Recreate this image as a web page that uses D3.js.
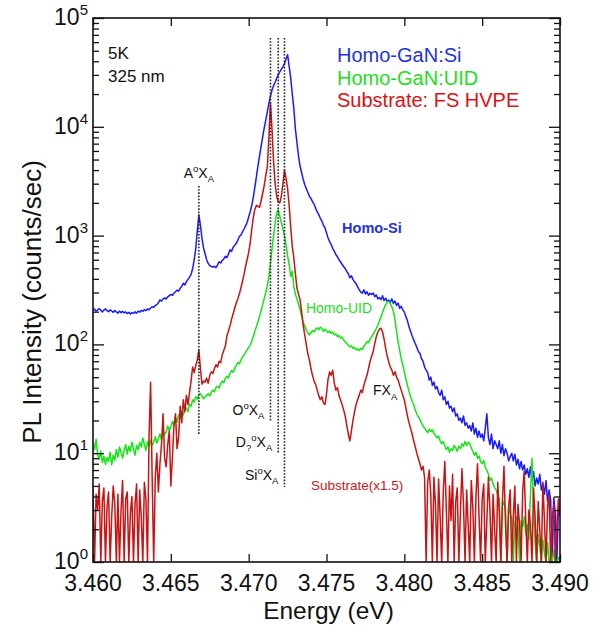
<!DOCTYPE html>
<html>
<head>
<meta charset="utf-8">
<script src="https://cdn.jsdelivr.net/npm/d3@7/dist/d3.min.js"></script>
<style>
  html, body { margin: 0; padding: 0; background: #fff; }
  svg { display: block; font-family: "Liberation Sans", Arial, Helvetica, sans-serif; }
</style>
</head>
<body>
<svg id="chart" width="602" height="629"></svg>
<script>
// Photon energy grid of the spectra (eV), 0.1 meV steps from 3.460 to 3.490
const energy = d3.range(301).map(i => +(3.46 + i * 0.0001).toFixed(4));

// Homo-GaN:Si PL intensity (counts/sec)
const homoSi = [
  205,211,203,208,214,206,199,207,212,204,
  200,208,203,197,205,199,194,202,196,201,
  195,199,192,197,190,196,193,199,194,202,
  198,205,201,209,204,212,208,216,222,219,
  228,232,241,257,250,262,268,261,274,280,
  288,283,296,305,316,309,328,341,365,352,
  378,396,415,440,495,600,760,1100,1550,1250,
  950,770,680,600,555,530,520,515,522,508,
  538,575,560,592,610,645,628,675,740,716,
  780,810,850,905,980,1010,1080,1150,1230,1320,
  1480,1660,1900,2260,2800,3500,4400,5400,6600,8100,
  9800,11600,13800,16400,19200,21800,23800,25700,28000,30000,
  32000,33800,35600,38000,42000,46000,36000,28000,20000,14900,
  9600,7200,5400,4360,3800,3300,2950,2700,2500,2300,
  2200,2050,1950,1780,1660,1560,1450,1360,1250,1180,
  1060,950,880,830,760,720,670,640,600,575,
  545,520,498,470,446,410,428,396,375,362,
  338,318,302,296,318,290,305,283,295,288,
  297,275,284,262,270,258,280,252,266,248,
  255,245,262,238,250,228,240,215,224,208,
  198,180,165,145,132,120,110,102,94,86,
  83,74,70,62,58,55,47,50,42,45,
  39,41,36,34,38,31,33,28,30,26,
  27,24,26,22,23,20,21,19,22,18,
  19,17,18,16,19,15,17,14,16,14,
  15,13,17,23,14,12,15,11,13,12,
  11,13,10,12,9.5,11,10,8.5,9.3,10,
  8.5,9.8,7.8,8.8,7.2,8.4,7,7.8,6.4,7.2,
  6,7.5,5.6,6.8,5,5.9,5.2,6.4,4.6,5.2,
  4.2,5.6,3.6,4.6,3.7,0.5,3.9,2.8,0.5,3.2,
  2.7
];

// Homo-GaN:UID PL intensity (counts/sec)
const homoUID = [
  12.5,10.8,13.4,9.6,8.8,10.5,8.2,9.4,7.9,9.1,
  8.4,10.2,7.8,9.6,8.6,10.8,9.2,11.4,10.2,9.0,
  10.6,12.0,9.8,11.6,10.4,12.6,11.0,9.6,11.8,10.8,
  12.6,11.4,13.8,12.0,10.6,12.8,11.6,13.2,11.8,12.6,
  14.2,12.4,13.6,15.0,13.2,16.4,14.8,15.6,17.8,16.2,
  17.4,19.6,18.0,21.4,19.2,22.6,21.0,24.2,22.4,25.6,
  26,24,28.4,27,31,29.6,33,31.4,34.6,35.4,
  33.2,31.6,32.8,34,35.2,33.8,36.4,38,36.8,40.2,
  41.4,39.6,43.8,46,44.4,48.6,51,49.2,54,57.4,
  55.6,60.2,64,68,66,72,76.4,80,84.6,89,
  94,98,108,118,132,146,162,180,205,232,
  265,300,350,420,560,760,1000,1300,1620,1720,
  1500,1320,1150,1000,820,650,540,420,470,340,
  290,262,235,210,182,160,148,136,128,122,
  128,134,130,138,142,136,144,140,132,138,
  134,128,133,126,130,122,125,118,121,114,
  117,110,106,102,98,95,97,92,94,89,
  91,88,92,90,96,100,106,104,112,118,
  124,132,140,150,165,180,196,215,232,245,
  248,238,222,200,168,132,105,88,74,65,
  56,48,42,37,33,30,28,25,23,21.5,
  20.5,19,17.8,17,16.2,15.4,16.6,15.8,16.4,15.2,
  14.6,13.8,14.4,13,12.2,12.8,11.6,10.8,11.4,10.2,
  11,10.6,11.8,11.2,10.4,11.6,11,12.2,11.6,12.8,
  11.8,12.6,12.2,11.2,10.4,9.6,10.2,9,9.4,8.4,
  8,8.6,7.4,7,6.4,5.6,5.9,5.2,4.8,4.6,
  4.1,3.8,0.5,3.3,3.6,3,0.5,3.2,2.8,2.5,
  0.5,2.3,2.6,2.2,0.5,2.4,2.1,2.6,1.8,2.2,
  1.6,4,9,3.4,1.5,0.5,1.8,1.4,0.5,1.6,
  1.2,0.5,1.5,0.5,1.1,0.5,1.3,0.5,0.5,1.1,
  0.5
];

// Substrate: FS HVPE PL intensity (counts/sec, scaled x1.5)
const substrate = [
  4.6,0.5,4.2,3.0,5.2,0.5,3.6,4.8,0.5,3.2,
  4.4,0.5,2.6,5.0,3.4,0.5,4.2,0.5,3.0,5.6,
  0.5,3.8,4.4,0.5,2.8,4.0,0.5,3.4,5.2,0.5,
  4.6,2.6,0.5,5.4,3.8,0.5,14,45,6,0.5,
  6,10,4.4,8,12,23,9,7.5,12,16,
  5,9,18,23,11,14,27,19,31,24,
  34,28,36,46,62,55,64,72,89,60,
  43,46,45,49,44,52,56,54,60,65,
  62,70,68,80,88,96,120,132,148,170,
  190,215,240,262,290,330,380,440,520,600,
  700,860,1150,1480,1750,1900,1860,1820,2100,2450,
  2900,3600,4300,8000,16600,9500,4800,3000,2300,2050,
  2000,2300,3000,4000,3400,2700,1900,1200,800,620,
  450,330,290,257,200,150,123,100,82,72,
  60,52,46,43,38,34,31,33,29,28,
  35,48,56,52,58,44,38,40,34,31,
  28,25,22,18,15,13,16,20,24,28,
  31,34,38,36,42,47,52,60,70,78,
  86,102,118,130,138,141,130,112,92,78,
  69,62,58,52,56,50,47,42,38,34,
  31,26,22,19,17,15,13,11.5,10,9,
  8,7,7.6,6,0.5,5.4,7,4.2,0.5,6,
  3.4,0.5,5.8,2.6,0.5,4.4,8.4,3,0.5,5,
  2.4,6.4,0.5,3.6,4.8,0.5,2.8,7.2,3.4,0.5,
  4.6,2.2,0.5,5.6,3.2,0.5,4,8,2.6,0.5,
  3.8,5.2,0.5,2.4,6,3,0.5,4.2,2,0.5,
  5.4,2.8,0.5,3.6,7.6,2.2,0.5,3.2,4.6,0.5,
  2.6,5,0.5,3.4,2.2,0.5,4.4,6.8,2.4,0.5,
  3,2.2,0.5,4.8,2.6,0.5,3.6,2,0.5,5.4,
  2.4,0.5,3.2,4.2,0.5,2.6,3.4,0.5,2.2,3.8,
  2.6
];

// Axis ticks
const xTicks = [3.460, 3.465, 3.470, 3.475, 3.480, 3.485, 3.490];
const xTickLabels = ["3.460", "3.465", "3.470", "3.475", "3.480", "3.485", "3.490"];
const yExponents = [0, 1, 2, 3, 4, 5];

// Bound-exciton line markers: energy (eV), top and bottom of the dotted line (counts/sec)
const markerNames = ["AoXA", "OoXA", "D?oXA", "SioXA"];
const markerEnergy = [3.4668, 3.4714, 3.4719, 3.4723];
const markerTop = [2860, 65500, 65500, 65500];
const markerBottom = [14.7, 19.4, 10, 4.9];

// Series legend
const seriesNames = ["Homo-GaN:Si", "Homo-GaN:UID", "Substrate: FS HVPE"];
const seriesColors = ["#1a1aff", "#14e614", "#c81414"];
const seriesValues = [homoSi, homoUID, substrate];

const svg = d3.select("#chart");
const W = 602, H = 629;
const margin = { left: 93, top: 18, right: 42, bottom: 67 };
const pw = W - margin.left - margin.right;
const ph = H - margin.top - margin.bottom;

const x = d3.scaleLinear().domain([3.46, 3.49]).range([0, pw]);
const y = d3.scaleLog().domain([1, 1e5]).range([ph, 0]).clamp(true);

const g = svg.append("g").attr("transform", `translate(${margin.left},${margin.top})`);

g.append("clipPath").attr("id", "plotclip")
  .append("rect").attr("x", 0).attr("y", 0).attr("width", pw).attr("height", ph);

// Spectra
const line = d3.line()
  .x((d, i) => x(energy[i]))
  .y(d => y(Math.max(d, 0.5)));

const plot = g.append("g").attr("clip-path", "url(#plotclip)");
seriesValues.forEach((vals, k) => {
  plot.append("path")
    .datum(vals)
    .attr("fill", "none")
    .attr("stroke", seriesColors[k])
    .attr("stroke-width", 1.5)
    .attr("stroke-linejoin", "round")
    .attr("d", line);
});

// Dotted marker lines
markerEnergy.forEach((e, k) => {
  g.append("line")
    .attr("x1", x(e)).attr("x2", x(e))
    .attr("y1", y(markerTop[k])).attr("y2", y(markerBottom[k]))
    .attr("stroke", "#222")
    .attr("stroke-width", 1.6)
    .attr("stroke-dasharray", "1.6,1.6");
});

// Axes (ticks pointing inward on all four sides)
const minorY = [];
for (let p = 0; p < 5; p++) for (let m = 2; m <= 9; m++) minorY.push(m * Math.pow(10, p));
const majorY = yExponents.map(p => Math.pow(10, p));

function styleAxis(sel) {
  sel.select(".domain").remove();
  sel.selectAll(".tick line").attr("stroke", "#111").attr("stroke-width", 1.3);
  sel.selectAll(".tick text").remove();
}

g.append("g").attr("transform", `translate(0,${ph})`)
  .call(d3.axisBottom(x).tickValues(xTicks).tickSize(-8)).call(styleAxis);
g.append("g")
  .call(d3.axisTop(x).tickValues(xTicks).tickSize(-8)).call(styleAxis);
g.append("g")
  .call(d3.axisLeft(y).tickValues(majorY).tickSize(-11)).call(styleAxis);
g.append("g")
  .call(d3.axisLeft(y).tickValues(minorY).tickSize(-6)).call(styleAxis);
g.append("g").attr("transform", `translate(${pw},0)`)
  .call(d3.axisRight(y).tickValues(majorY).tickSize(-11)).call(styleAxis);
g.append("g").attr("transform", `translate(${pw},0)`)
  .call(d3.axisRight(y).tickValues(minorY).tickSize(-6)).call(styleAxis);

// Frame
g.append("rect").attr("width", pw).attr("height", ph)
  .attr("fill", "none").attr("stroke", "#111").attr("stroke-width", 1.6);

// Tick labels
xTicks.forEach((t, k) => {
  g.append("text")
    .attr("x", x(t)).attr("y", ph + 29)
    .attr("text-anchor", "middle")
    .attr("font-size", 23).attr("fill", "#111")
    .text(xTickLabels[k]);
});
yExponents.forEach(p => {
  const t = g.append("text")
    .attr("x", -5).attr("y", y(Math.pow(10, p)) + 7)
    .attr("text-anchor", "end")
    .attr("font-size", 23).attr("fill", "#111");
  t.append("tspan").text("10");
  t.append("tspan").attr("font-size", 15).attr("dy", -10).text(String(p));
});

// Axis titles
svg.append("text")
  .attr("x", margin.left + pw / 2 + 2).attr("y", 619)
  .attr("text-anchor", "middle").attr("font-size", 24.5).attr("fill", "#111")
  .text("Energy (eV)");
svg.append("text")
  .attr("transform", "translate(41,302) rotate(-90)")
  .attr("text-anchor", "middle").attr("font-size", 26).attr("fill", "#111")
  .text("PL Intensity (counts/sec)");

// Rich label helper: parts = [text, mode] where mode is "", "sup" or "sub"
function richText(parent, px, py, parts, opts) {
  const t = parent.append("text")
    .attr("x", px).attr("y", py)
    .attr("text-anchor", opts.anchor || "start")
    .attr("font-size", opts.size).attr("fill", opts.color || "#111");
  let shift = 0;
  parts.forEach(([s, mode]) => {
    const target = mode === "sup" ? -opts.size * 0.42 : mode === "sub" ? opts.size * 0.3 : 0;
    const ts = t.append("tspan").attr("dy", target - shift).text(s);
    if (mode) ts.attr("font-size", opts.size * 0.68);
    shift = target;
  });
  return t;
}

// Marker labels
const markerParts = [
  [["A", ""], ["o", "sup"], ["X", ""], ["A", "sub"]],
  [["O", ""], ["o", "sup"], ["X", ""], ["A", "sub"]],
  [["D", ""], ["?", "sub"], ["o", "sup"], ["X", ""], ["A", "sub"]],
  [["Si", ""], ["o", "sup"], ["X", ""], ["A", "sub"]]
];
const markerLabelValue = [3400, 22.4, 11.4, 5.7];
richText(g, x(markerEnergy[0]), y(markerLabelValue[0]), markerParts[0], { size: 14, anchor: "middle" });
for (let k = 1; k < 4; k++) {
  richText(g, x(markerEnergy[k]) - 6, y(markerLabelValue[k]), markerParts[k], { size: 14, anchor: "end" });
}

// Conditions
svg.append("text").attr("x", 108).attr("y", 59).attr("font-size", 17).attr("fill", "#111").text("5K");
svg.append("text").attr("x", 108).attr("y", 82).attr("font-size", 17).attr("fill", "#111").text("325 nm");

// Legend
const legendColors = ["#2233dd", "#22dd22", "#dd1111"];
seriesNames.forEach((n, k) => {
  svg.append("text")
    .attr("x", 337).attr("y", 62 + k * 22.5)
    .attr("font-size", 20).attr("fill", legendColors[k])
    .text(n);
});

// Curve labels
g.append("text").attr("x", x(3.4760)).attr("y", y(1057))
  .attr("font-size", 14.5).attr("font-weight", "bold").attr("fill", "#2233dd").text("Homo-Si");
g.append("text").attr("x", x(3.47368)).attr("y", y(194))
  .attr("font-size", 14).attr("fill", "#22dd22").text("Homo-UID");
richText(g, x(3.47799), y(34), [["FX", ""], ["A", "sub"]], { size: 14 });
g.append("text").attr("x", x(3.4740)).attr("y", y(4.6))
  .attr("font-size", 13.5).attr("fill", "#c41a1a").text("Substrate(x1.5)");
</script>
</body>
</html>
